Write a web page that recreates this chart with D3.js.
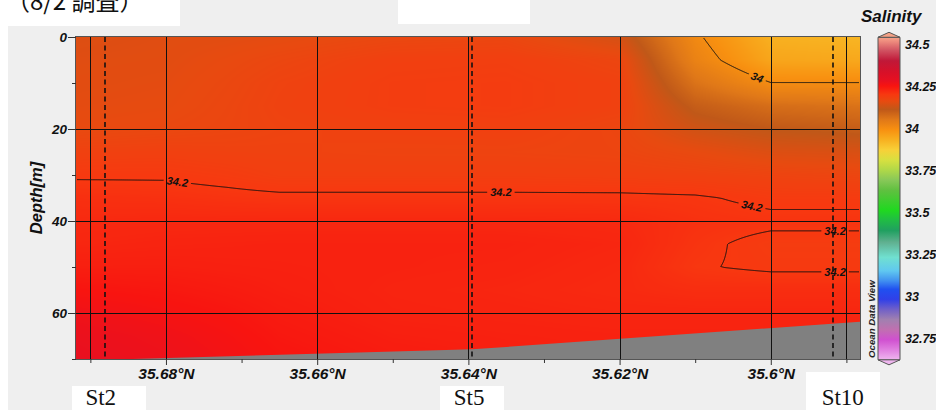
<!DOCTYPE html>
<html>
<head>
<meta charset="utf-8">
<script src="https://cdn.jsdelivr.net/npm/d3@7"></script>
<style>
  html, body { margin: 0; padding: 0; background: #fff; }
  svg { display: block; }
  .ax text { font-family: "Liberation Sans", Arial, sans-serif; font-weight: bold; font-style: italic; fill: #111; }
</style>
</head>
<body>
<svg id="chart" width="936" height="410"></svg>
<script>
// ---- Section data: salinity profiles along the transect ----
// latitude of each gridded profile (°N), north to south
const sectionLat = [35.692, 35.68, 35.672, 35.665, 35.65, 35.635, 35.62, 35.61, 35.60, 35.588];
// depth levels of each profile (m)
const sectionDepth = [0, 5, 10, 15, 20, 25, 30, 35, 40, 45, 50, 55, 60, 65, 70];
// salinity, one row per profile, one value per depth level
const salinity = [
  [34.145, 34.150, 34.152, 34.155, 34.160, 34.180, 34.197, 34.212, 34.220, 34.225, 34.235, 34.250, 34.265, 34.275, 34.280],
  [34.150, 34.152, 34.155, 34.158, 34.165, 34.182, 34.197, 34.210, 34.222, 34.228, 34.235, 34.245, 34.255, 34.265, 34.270],
  [34.152, 34.160, 34.165, 34.168, 34.170, 34.179, 34.192, 34.207, 34.222, 34.229, 34.233, 34.240, 34.248, 34.255, 34.260],
  [34.155, 34.168, 34.176, 34.178, 34.175, 34.178, 34.185, 34.205, 34.222, 34.230, 34.232, 34.235, 34.240, 34.245, 34.250],
  [34.165, 34.183, 34.188, 34.188, 34.180, 34.175, 34.185, 34.205, 34.222, 34.230, 34.230, 34.228, 34.230, 34.235, 34.240],
  [34.168, 34.185, 34.190, 34.190, 34.182, 34.175, 34.185, 34.205, 34.222, 34.230, 34.228, 34.225, 34.228, 34.232, 34.235],
  [34.135, 34.170, 34.180, 34.180, 34.170, 34.172, 34.183, 34.205, 34.220, 34.225, 34.222, 34.220, 34.225, 34.230, 34.232],
  [34.008, 34.025, 34.060, 34.100, 34.130, 34.160, 34.180, 34.203, 34.210, 34.206, 34.202, 34.215, 34.225, 34.230, 34.235],
  [33.930, 33.950, 34.001, 34.070, 34.110, 34.145, 34.175, 34.194, 34.206, 34.192, 34.196, 34.215, 34.225, 34.230, 34.230],
  [33.920, 33.945, 34.001, 34.060, 34.100, 34.140, 34.170, 34.194, 34.206, 34.192, 34.196, 34.215, 34.225, 34.230, 34.230]
];
// sea-floor depth under the transect
const bottomLat = [35.6919, 35.6395, 35.5882];
const bottomDepth = [70.35, 67.9, 61.9];
// stations
const stationName = ["St2", "St5", "St10"];
const stationLat = [35.6881, 35.6395, 35.5918];
// contour levels
const contourLevels = [34.0, 34.2];
// axis ticks
const latMajor = [35.68, 35.66, 35.64, 35.62, 35.60];
const latMinor = [35.69, 35.67, 35.65, 35.63, 35.61, 35.59];
const latGrid = [35.69, 35.68, 35.66, 35.64, 35.62, 35.60, 35.59];
const depthMajor = [0, 20, 40, 60];
const depthMinor = [10, 30, 50, 70];
const colorTicks = [34.5, 34.25, 34, 33.75, 33.5, 33.25, 33, 32.75];

// ODV-style colour palette (value, colour)
const palette = [
  [32.60, "#f4c8f4"], [32.68, "#e080e0"], [32.74, "#d050d0"], [32.80, "#c070b0"],
  [32.86, "#a080b0"], [32.92, "#7060c8"], [32.98, "#3040e8"], [33.04, "#2050f0"],
  [33.09, "#4090f0"], [33.15, "#60c8f0"], [33.23, "#70e0d0"], [33.32, "#60b090"],
  [33.39, "#20a060"], [33.46, "#20c040"], [33.51, "#20d820"], [33.63, "#60c040"],
  [33.69, "#88c858"], [33.75, "#b0d848"], [33.81, "#d8e040"], [33.87, "#f8d038"],
  [33.93, "#f8b020"], [33.99, "#f89010"], [34.05, "#e07818"], [34.11, "#c05818"],
  [34.16, "#e84a10"], [34.20, "#f83810"], [34.25, "#f81410"], [34.28, "#e81020"],
  [34.33, "#d81028"], [34.40, "#c01838"], [34.46, "#d05060"], [34.52, "#f09080"],
  [34.55, "#f4a888"]
];

const svg = d3.select("#chart");
const defs = svg.append("defs");

// page backdrop and text panels
svg.append("rect").attr("x", 8).attr("y", 0).attr("width", 928).attr("height", 410).attr("fill", "#efefef");
const panels = [[0, 0, 180, 26], [398, 0, 132, 24], [72, 386, 74, 24], [440, 386, 64, 24], [806, 372, 74, 38]];
svg.selectAll("rect.panel").data(panels).join("rect").attr("class", "panel")
  .attr("x", d => d[0]).attr("y", d => d[1]).attr("width", d => d[2]).attr("height", d => d[3])
  .attr("fill", "#fff");

svg.append("text").attr("x", 6).attr("y", 10)
  .style("font-family", "'Noto Sans CJK JP', sans-serif").style("font-size", "24px").attr("fill", "#111")
  .text("（8/2 調査）");

// scales
const x = d3.scaleLinear().domain([35.6919, 35.5882]).range([76, 860]);
const y = d3.scaleLinear().domain([0, 70]).range([37, 359]);
const x0 = x.range()[0], y0 = y.range()[0];
const pw = x.range()[1] - x0, ph = y.range()[1] - y0;

function clamp01(t) { return Math.max(0, Math.min(1, t)); }
function fieldAt(lat, depth) {
  let i = 0;
  while (i < sectionLat.length - 2 && lat < sectionLat[i + 1]) i++;
  const tx = clamp01((lat - sectionLat[i]) / (sectionLat[i + 1] - sectionLat[i]));
  let j = 0;
  while (j < sectionDepth.length - 2 && depth > sectionDepth[j + 1]) j++;
  const ty = clamp01((depth - sectionDepth[j]) / (sectionDepth[j + 1] - sectionDepth[j]));
  const a = salinity[i][j], b = salinity[i + 1][j], c = salinity[i][j + 1], d = salinity[i + 1][j + 1];
  return (a * (1 - tx) + b * tx) * (1 - ty) + (c * (1 - tx) + d * tx) * ty;
}

const color = d3.scaleLinear().domain(palette.map(d => d[0])).range(palette.map(d => d[1])).clamp(true);
const vMin = palette[0][0], vMax = palette[palette.length - 1][0];
const lutN = 2000;
const lut = d3.range(lutN).map(k => d3.rgb(color(vMin + (vMax - vMin) * k / (lutN - 1))));

// sample the field on a pixel grid
const nx = Math.round(pw), ny = Math.round(ph);
const values = new Float64Array(nx * ny);
for (let j = 0; j < ny; j++) {
  const dep = y.invert(y0 + j + 0.5);
  for (let i = 0; i < nx; i++) {
    values[j * nx + i] = fieldAt(x.invert(x0 + i + 0.5), dep);
  }
}
const canvas = document.createElement("canvas");
canvas.width = nx; canvas.height = ny;
const ctx = canvas.getContext("2d");
const img = ctx.createImageData(nx, ny);
for (let k = 0; k < nx * ny; k++) {
  const idx = Math.max(0, Math.min(lutN - 1, Math.round((values[k] - vMin) / (vMax - vMin) * (lutN - 1))));
  const c = lut[idx];
  img.data[4 * k] = c.r; img.data[4 * k + 1] = c.g; img.data[4 * k + 2] = c.b; img.data[4 * k + 3] = 255;
}
ctx.putImageData(img, 0, 0);

defs.append("clipPath").attr("id", "plotClip").append("rect")
  .attr("x", x0).attr("y", y0).attr("width", pw).attr("height", ph);
defs.append("clipPath").attr("id", "innerClip").append("rect")
  .attr("x", x0 + 1).attr("y", y0 + 1).attr("width", pw - 2).attr("height", ph - 2);

const plot = svg.append("g").attr("clip-path", "url(#plotClip)");
plot.append("image").attr("x", x0).attr("y", y0).attr("width", nx).attr("height", ny)
  .attr("preserveAspectRatio", "none").attr("href", canvas.toDataURL());

// sea floor
const floorArea = d3.area().x((d, i) => x(bottomLat[i])).y0(y.range()[1] + 2).y1(d => y(d));
plot.append("path").attr("d", floorArea(bottomDepth)).attr("fill", "#808080");

// contour labels: placed where the isoline crosses a given latitude
const labelSpec = [
  { level: 34.0, lat: 35.6018, d0: 0, d1: 20 },
  { level: 34.2, lat: 35.6785, d0: 25, d1: 40 },
  { level: 34.2, lat: 35.6357, d0: 25, d1: 40 },
  { level: 34.2, lat: 35.6025, d0: 30, d1: 40 },
  { level: 34.2, lat: 35.5915, d0: 38, d1: 46 },
  { level: 34.2, lat: 35.5915, d0: 46, d1: 56 }
];
function crossDepth(level, lat, d0, d1) {
  let prev = fieldAt(lat, d0) - level;
  for (let d = d0 + 0.05; d <= d1; d += 0.05) {
    const cur = fieldAt(lat, d) - level;
    if ((prev < 0) !== (cur < 0)) return d - 0.05 + 0.05 * prev / (prev - cur);
    prev = cur;
  }
  return null;
}
const labels = labelSpec.map(s => {
  const dc = crossDepth(s.level, s.lat, s.d0, s.d1);
  const dl = crossDepth(s.level, s.lat + 0.0012, s.d0 - 3, s.d1 + 3) ?? dc;
  const dr = crossDepth(s.level, s.lat - 0.0012, s.d0 - 3, s.d1 + 3) ?? dc;
  const ang = Math.atan2(y(dr) - y(dl), x(s.lat - 0.0012) - x(s.lat + 0.0012)) * 180 / Math.PI;
  return { text: String(s.level), cx: x(s.lat), cy: y(dc), ang };
});

const mask = defs.append("mask").attr("id", "gapMask").attr("maskUnits", "userSpaceOnUse")
  .attr("x", 0).attr("y", 0).attr("width", 936).attr("height", 410);
mask.append("rect").attr("width", 936).attr("height", 410).attr("fill", "#fff");

const contours = d3.contours().size([nx, ny]).thresholds(contourLevels)(values);
const cpath = d3.geoPath(d3.geoIdentity().translate([x0, y0]));
svg.append("g").attr("clip-path", "url(#innerClip)")
  .append("g").attr("mask", "url(#gapMask)")
  .selectAll("path").data(contours).join("path")
  .attr("d", cpath).attr("fill", "none").attr("stroke", "#111").attr("stroke-width", 1);

const lblG = svg.append("g");
labels.forEach(l => {
  const t = lblG.append("text")
    .attr("transform", `translate(${l.cx},${l.cy}) rotate(${l.ang})`)
    .attr("text-anchor", "middle").attr("dy", "0.35em")
    .style("font-family", "'Liberation Sans', Arial, sans-serif").style("font-size", "11px")
    .style("font-style", "italic").style("font-weight", "bold").attr("fill", "#111")
    .text(l.text);
  const w = t.node().getComputedTextLength() + 6;
  mask.append("rect").attr("x", -w / 2).attr("y", -6).attr("width", w).attr("height", 12)
    .attr("transform", `translate(${l.cx},${l.cy}) rotate(${l.ang})`).attr("fill", "#000");
});

// grid lines
const grid = svg.append("g").attr("clip-path", "url(#plotClip)");
grid.selectAll("line.v").data(latGrid).join("line")
  .attr("x1", d => Math.round(x(d)) + 0.5).attr("x2", d => Math.round(x(d)) + 0.5)
  .attr("y1", y0).attr("y2", y0 + ph).attr("stroke", "#111").attr("stroke-width", 1);
grid.selectAll("line.h").data(depthMajor.filter(d => d > 0)).join("line")
  .attr("y1", d => Math.round(y(d)) + 0.5).attr("y2", d => Math.round(y(d)) + 0.5)
  .attr("x1", x0).attr("x2", x0 + pw).attr("stroke", "#111").attr("stroke-width", 1);
// station lines
grid.selectAll("line.st").data(stationLat).join("line")
  .attr("x1", d => Math.round(x(d))).attr("x2", d => Math.round(x(d)))
  .attr("y1", y0).attr("y2", y0 + ph).attr("stroke", "#111").attr("stroke-width", 1.6)
  .attr("stroke-dasharray", "5,3.5");

// frame
svg.append("rect").attr("x", x0 - 0.5).attr("y", y0 - 0.5).attr("width", pw + 1).attr("height", ph + 1)
  .attr("fill", "none").attr("stroke", "#555").attr("stroke-width", 1);

// axes
const fmtLat = d => `${+d.toFixed(2)}°N`;
const xAxis = svg.append("g").attr("class", "ax").attr("transform", `translate(0,${y0 + ph})`)
  .call(d3.axisBottom(x).tickValues(latMajor).tickSize(6).tickPadding(3).tickFormat(fmtLat));
xAxis.call(g => g.select(".domain").remove());
xAxis.selectAll("text").style("font-size", "15.5px");
const xMinor = svg.append("g").attr("class", "ax").attr("transform", `translate(0,${y0 + ph})`)
  .call(d3.axisBottom(x).tickValues(latMinor).tickSize(4).tickFormat(""));
xMinor.call(g => g.select(".domain").remove());

const yAxis = svg.append("g").attr("class", "ax").attr("transform", `translate(${x0},0)`)
  .call(d3.axisLeft(y).tickValues(depthMajor).tickSize(8).tickPadding(1));
yAxis.call(g => g.select(".domain").remove());
yAxis.selectAll("text").style("font-size", "13.5px");
const yMinor = svg.append("g").attr("class", "ax").attr("transform", `translate(${x0},0)`)
  .call(d3.axisLeft(y).tickValues(depthMinor).tickSize(4).tickFormat(""));
yMinor.call(g => g.select(".domain").remove());
svg.selectAll(".ax .tick line").attr("stroke", "#333");

svg.append("g").attr("class", "ax").append("text")
  .attr("transform", `translate(42,${y0 + ph * 0.5}) rotate(-90)`).attr("text-anchor", "middle")
  .style("font-size", "16.5px").text("Depth[m]");

// colour bar
const barMin = 32.62, barMax = 34.54;
const cy = d3.scaleLinear().domain([34.5, 32.75]).range([44, 338]);
const bx = 878, bw = 22;
const grad = defs.append("linearGradient").attr("id", "salGrad")
  .attr("x1", 0).attr("y1", 0).attr("x2", 0).attr("y2", 1);
const gradStops = [[barMax, color(barMax)]]
  .concat(palette.filter(d => d[0] < barMax && d[0] > barMin).slice().reverse())
  .concat([[barMin, color(barMin)]]);
gradStops.forEach(d => {
  grad.append("stop").attr("offset", (barMax - d[0]) / (barMax - barMin)).attr("stop-color", d[1]);
});
const bTop = cy(barMax), bBot = cy(barMin);
svg.append("path")
  .attr("d", `M${bx},${bTop} L${bx + bw},${bTop} L${bx + bw},${bBot} L${bx},${bBot} Z`)
  .attr("fill", "url(#salGrad)").attr("stroke", "#555").attr("stroke-width", 1);
svg.append("path").attr("d", `M${bx},${bTop} L${bx + bw / 2},${bTop - 5} L${bx + bw},${bTop} Z`)
  .attr("fill", color(barMax)).attr("stroke", "#555");
svg.append("path").attr("d", `M${bx},${bBot} L${bx + bw / 2},${bBot + 5} L${bx + bw},${bBot} Z`)
  .attr("fill", color(barMin)).attr("stroke", "#555");

const cbar = svg.append("g").attr("class", "ax");
cbar.selectAll("text.ct").data(colorTicks).join("text")
  .attr("x", 905).attr("y", d => cy(d)).attr("dy", "0.36em")
  .style("font-size", "12.5px").text(d => String(d));
cbar.append("text").attr("x", 861).attr("y", 22).style("font-size", "17px").text("Salinity");
svg.append("text").attr("transform", "translate(875,358) rotate(-90)")
  .style("font-family", "'Liberation Sans', Arial, sans-serif").style("font-size", "9.7px")
  .style("font-style", "italic").style("font-weight", "bold").attr("fill", "#222")
  .text("Ocean Data View");

// station names
const stOffset = [-4, -3, 10];
svg.selectAll("text.stn").data(stationName).join("text")
  .attr("x", (d, i) => x(stationLat[i]) + stOffset[i]).attr("y", 405)
  .attr("text-anchor", "middle")
  .style("font-family", "'Liberation Serif', 'Times New Roman', serif").style("font-size", "23px")
  .attr("fill", "#111").text(d => d);
</script>
</body>
</html>
